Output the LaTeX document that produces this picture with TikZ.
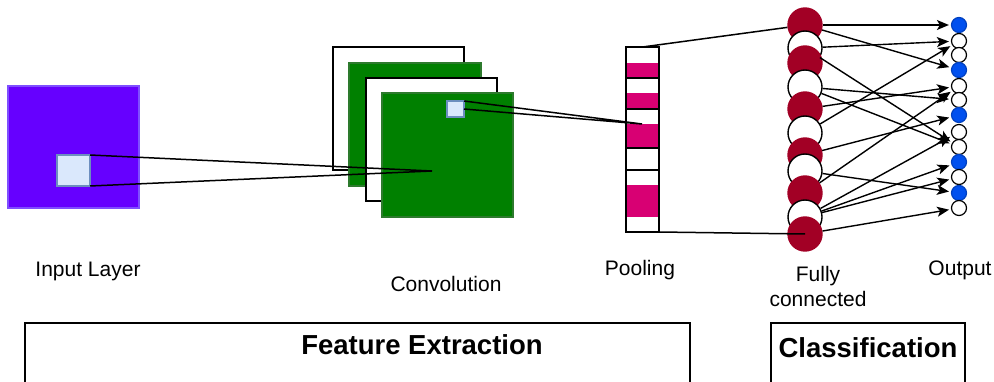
\documentclass[tikz,border=0pt]{standalone}
\usepackage{fontspec}
\setmainfont{Liberation Sans}
\usepackage{tikz}
\usetikzlibrary{arrows.meta}

\definecolor{inpurple}{HTML}{6600FF}
\definecolor{inedge}{HTML}{7F4FFF}
\definecolor{patchfill}{HTML}{DAE8FC}
\definecolor{patchedge}{HTML}{6C8EBF}
\definecolor{convgreen}{HTML}{008000}
\definecolor{convedge}{HTML}{2D7A2D}
\definecolor{poolpink}{HTML}{D80073}
\definecolor{fcred}{HTML}{A20025}
\definecolor{outblue}{HTML}{0050EF}

\begin{document}
\begin{tikzpicture}[x=1pt, y=-1pt,
    box/.style={draw, line width=1.5pt, inner sep=0, outer sep=0, anchor=north west},
    ln/.style={line width=1.5pt},
    arr/.style={line width=1.4pt, -{Stealth[length=12pt, width=10pt, inset=3pt]}, shorten >=2pt},
    fcn/.style={circle, minimum size=34, inner sep=0, line width=1.4pt},
    rn/.style={fill=fcred, draw=fcred},
    wn/.style={fill=white, draw=black},
    on/.style={circle, minimum size=15, inner sep=0, line width=1.2pt},
    bn/.style={fill=outblue, draw=outblue!80!black},
    lbl/.style={font=\fontsize{21}{25}\selectfont, inner sep=0, anchor=base},
    ttl/.style={font=\fontsize{27.5}{32}\selectfont\bfseries, inner sep=0, anchor=base}]
    \useasboundingbox (0,0) rectangle (994,382);
    \clip (0,0) rectangle (994,382);

    % input layer
    \node[box, fill=inpurple, draw=inedge, minimum width=131, minimum height=122] (in) at (8,86) {};
    \node[box, fill=patchfill, draw=patchedge, minimum width=33, minimum height=31] (ip) at (57,155) {};

    % convolution
    \node[box, fill=white, minimum width=131, minimum height=123] (c1) at (333,47) {};
    \node[box, fill=convgreen, draw=convedge, minimum width=132, minimum height=123] (c2) at (349,63) {};
    \node[box, fill=white, minimum width=131, minimum height=123] (c3) at (366,78) {};
    \node[box, fill=convgreen, draw=convedge, minimum width=131, minimum height=124] (c4) at (382,93) {};
    \node[box, fill=patchfill, draw=patchedge, minimum width=17, minimum height=16] (cq) at (447,101) {};

    % pooling
    \foreach \t/\b in {63/78, 93/109, 124/148, 185/217}
        \fill[poolpink] (626,\t) rectangle (659,\b);
    \foreach \t/\b in {47/78, 78/109, 109/148, 148/170, 170/232}
        \draw[line width=1.5pt] (626,\t) rectangle (659,\b);
    \node[box, minimum width=33, minimum height=185] (pool) at (626,47) {};

    \coordinate (cp) at (432,171);
    \coordinate (pp) at (642,124);
    \draw[ln] (ip.north east) -- (cp) -- (ip.south east);
    \draw[ln] (cq.north east) -- (pp) -- (cq.east);

    % fully connected
    \foreach \i/\y/\s in {1/25/rn, 2/48/wn, 3/63/rn, 4/87/wn, 5/109/rn, 6/133/wn,
                          7/155/rn, 8/171/wn, 9/193/rn, 10/217/wn, 11/234/rn}
        \node[fcn, \s] (f\i) at (805,\y) {};

    % output
    \foreach \i/\y/\s in {1/25/bn, 2/41/wn, 3/55/wn, 4/70/bn, 5/86/wn, 6/100/wn, 7/115/bn,
                          8/132/wn, 9/147/wn, 10/162/bn, 11/177/wn, 12/193/bn, 13/208/wn}
        \node[on, \s] (o\i) at (959,\y) {};

    \draw[ln] (pool.north) -- (f1);
    \draw[ln] (pool.south east) -- (f11.center);

    \foreach \a/\b in {1/1, 1/4, 2/2, 2/9, 4/6, 4/9, 5/5, 6/2, 7/7,
                       8/12, 9/5, 10/8, 10/10, 10/11, 11/13}
        \draw[arr] (f\a) -- (o\b);

    % labels
    \node[lbl] (t1) at (88,277) {Input Layer};
    \node[lbl] (t2) at (446,291) {Convolution};
    \node[lbl] (t3) at (640,276) {Pooling};
    \node[lbl, anchor=north, align=center] (t4) at (818,266) {Fully\\connected};
    \node[lbl] (t5) at (960,276) {Output};

    % stages
    \node[box, minimum width=665, minimum height=100] (fe) at (25,323) {};
    \node[box, minimum width=194, minimum height=100] (cl) at (771,323) {};
    \node[ttl] (t6) at (422,354) {Feature Extraction};
    \node[ttl] (t7) at (868,357) {Classification};
\end{tikzpicture}
\end{document}
